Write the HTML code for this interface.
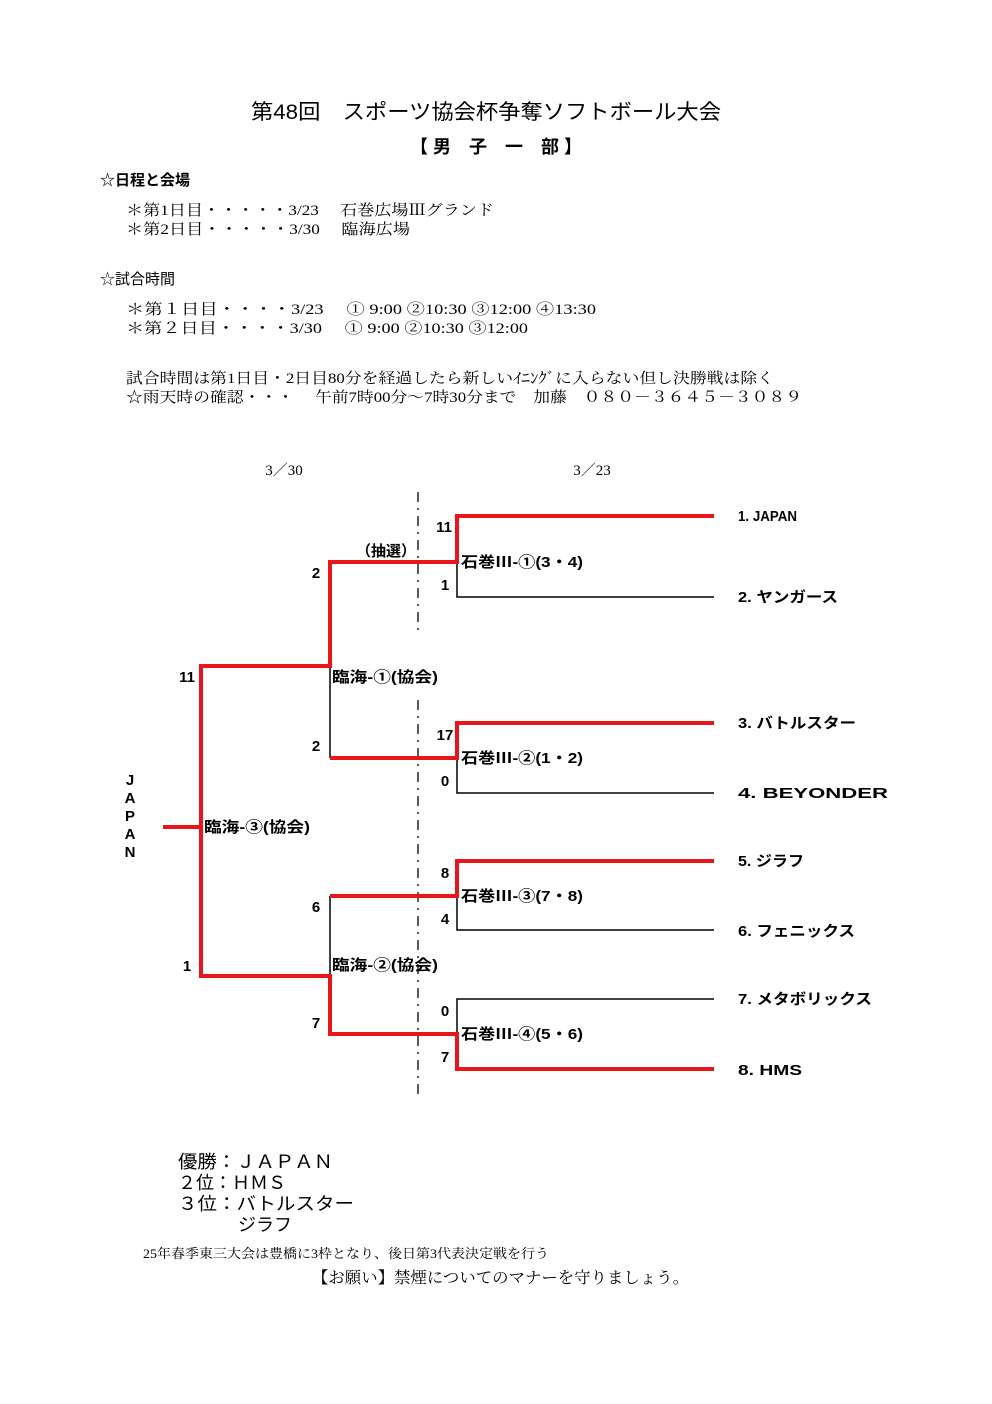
<!DOCTYPE html>
<html><head><meta charset="utf-8"><style>
html,body{margin:0;padding:0;background:#fff;}
svg{display:block;}
.serif{font-family:"Liberation Serif","Noto Serif CJK JP","Noto Serif CJK SC",serif;}
.sans{font-family:"Liberation Sans","Noto Sans CJK JP",sans-serif;}
.b{font-weight:bold;}
</style></head><body>
<svg width="992" height="1404" viewBox="0 0 992 1404" xmlns="http://www.w3.org/2000/svg">
<rect width="992" height="1404" fill="#fff"/>
<g class="sans" fill="#000">
<text x="486" y="119" font-size="21" text-anchor="middle" textLength="470" lengthAdjust="spacingAndGlyphs">第48回　スポーツ協会杯争奪ソフトボール大会</text>
<text x="496" y="153" font-size="18" text-anchor="middle" class="b">【 男　子　一　部 】</text>
<text x="100" y="185" font-size="15" class="b">☆日程と会場</text>
<text x="100" y="284" font-size="15">☆試合時間</text>
</g>
<g class="serif" fill="#000" font-size="15">
<text x="126" y="215" textLength="368" lengthAdjust="spacingAndGlyphs">＊第1日目・・・・・3/23　 石巻広場Ⅲグランド</text>
<text x="126" y="234" textLength="284" lengthAdjust="spacingAndGlyphs">＊第2日目・・・・・3/30　 臨海広場</text>
<text x="126" y="314" textLength="470" lengthAdjust="spacingAndGlyphs">＊第１日目・・・・3/23　 ① 9:00 ②10:30 ③12:00 ④13:30</text>
<text x="126" y="333" textLength="402" lengthAdjust="spacingAndGlyphs">＊第２日目・・・・3/30　 ① 9:00 ②10:30 ③12:00</text>
<text x="126" y="383" textLength="648" lengthAdjust="spacingAndGlyphs">試合時間は第1日目・2日目80分を経過したら新しいｲﾆﾝｸﾞに入らない但し決勝戦は除く</text>
<text x="126" y="402" textLength="676" lengthAdjust="spacingAndGlyphs">☆雨天時の確認・・・　 午前7時00分～7時30分まで　加藤　０８０－３６４５－３０８９</text>
<text x="284" y="475" text-anchor="middle">3／30</text>
<text x="592" y="475" text-anchor="middle">3／23</text>
</g>
<g stroke="#000" stroke-width="1.3" stroke-dasharray="10,6,2,6">
<line x1="418" y1="492" x2="418" y2="630"/>
<line x1="418" y1="700" x2="418" y2="1097"/>
</g>
<g stroke="#000" stroke-width="1.5" fill="none">
<polyline points="457,562 457,597 714,597"/>
<polyline points="457,758 457,793 714,793"/>
<line x1="330" y1="666" x2="330" y2="758"/>
<line x1="201" y1="827" x2="201" y2="976"/>
<polyline points="457,896 457,930 714,930"/>
<polyline points="714,999 457,999 457,1034"/>
<line x1="330" y1="896" x2="330" y2="976"/>
</g>
<g stroke="#e8161a" stroke-width="4" fill="none" stroke-linejoin="miter">
<polyline points="714,516 457,516 457,562 330,562 330,666 201,666 201,827 163,827"/>
<polyline points="714,723 457,723 457,758 330,758"/>
<polyline points="201,827 201,976 330,976 330,1034 457,1034 457,1069 714,1069"/>
<polyline points="714,861 457,861 457,896 330,896"/>
</g>
<g class="sans" fill="#000" font-size="15" font-weight="bold">
<text x="444" y="532" text-anchor="middle">11</text>
<text x="445" y="590" text-anchor="middle">1</text>
<text x="386" y="556" text-anchor="middle">（抽選）</text>
<text x="316" y="578" text-anchor="middle">2</text>
<text x="316" y="751" text-anchor="middle">2</text>
<text x="187" y="682" text-anchor="middle">11</text>
<text x="187" y="971" text-anchor="middle">1</text>
<text x="445" y="740" text-anchor="middle">17</text>
<text x="445" y="786" text-anchor="middle">0</text>
<text x="445" y="878" text-anchor="middle">8</text>
<text x="445" y="924" text-anchor="middle">4</text>
<text x="316" y="912" text-anchor="middle">6</text>
<text x="316" y="1028" text-anchor="middle">7</text>
<text x="445" y="1016" text-anchor="middle">0</text>
<text x="445" y="1062" text-anchor="middle">7</text>
<text x="461" y="567" textLength="122" lengthAdjust="spacingAndGlyphs">石巻Ⅲ-①(3・4)</text>
<text x="461" y="763" textLength="122" lengthAdjust="spacingAndGlyphs">石巻Ⅲ-②(1・2)</text>
<text x="461" y="901" textLength="122" lengthAdjust="spacingAndGlyphs">石巻Ⅲ-③(7・8)</text>
<text x="461" y="1039" textLength="122" lengthAdjust="spacingAndGlyphs">石巻Ⅲ-④(5・6)</text>
<text x="332" y="682" textLength="106" lengthAdjust="spacingAndGlyphs">臨海-①(協会)</text>
<text x="332" y="970" textLength="106" lengthAdjust="spacingAndGlyphs">臨海-②(協会)</text>
<text x="204" y="832" textLength="106" lengthAdjust="spacingAndGlyphs">臨海-③(協会)</text>
<text x="738" y="521" textLength="59" lengthAdjust="spacingAndGlyphs">1. JAPAN</text>
<text x="738" y="602" textLength="100" lengthAdjust="spacingAndGlyphs">2. ヤンガース</text>
<text x="738" y="728" textLength="118" lengthAdjust="spacingAndGlyphs">3. バトルスター</text>
<text x="738" y="798" textLength="150" lengthAdjust="spacingAndGlyphs">4. BEYONDER</text>
<text x="738" y="866" textLength="66" lengthAdjust="spacingAndGlyphs">5. ジラフ</text>
<text x="738" y="936" textLength="117" lengthAdjust="spacingAndGlyphs">6. フェニックス</text>
<text x="738" y="1004" textLength="134" lengthAdjust="spacingAndGlyphs">7. メタボリックス</text>
<text x="738" y="1075" textLength="64" lengthAdjust="spacingAndGlyphs">8. HMS</text>
<text x="130" y="785" text-anchor="middle">J</text>
<text x="130" y="803" text-anchor="middle">A</text>
<text x="130" y="821" text-anchor="middle">P</text>
<text x="130" y="839" text-anchor="middle">A</text>
<text x="130" y="857" text-anchor="middle">N</text>
</g>
<g class="sans" fill="#000" font-size="18">
<text x="178" y="1168" textLength="155" lengthAdjust="spacingAndGlyphs">優勝：ＪＡＰＡＮ</text>
<text x="178" y="1189">２位：ＨＭＳ</text>
<text x="178" y="1210" textLength="176" lengthAdjust="spacingAndGlyphs">３位：バトルスター</text>
<text x="238" y="1231">ジラフ</text>
</g>
<text x="143" y="1258" class="serif" font-size="13" textLength="406" lengthAdjust="spacingAndGlyphs">25年春季東三大会は豊橋に3枠となり、後日第3代表決定戦を行う</text>
<text x="312" y="1283" class="serif" font-size="16" textLength="377" lengthAdjust="spacingAndGlyphs">【お願い】禁煙についてのマナーを守りましょう。</text>
</svg>
</body></html>
